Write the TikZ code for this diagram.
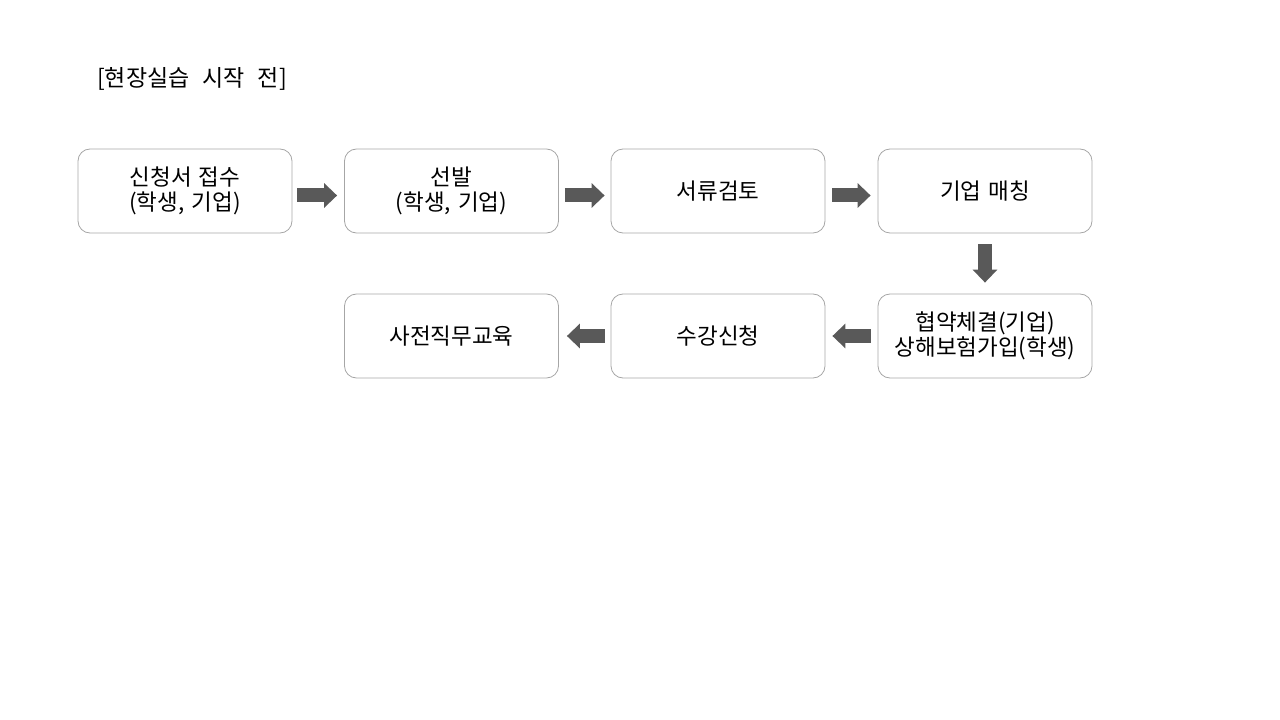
\documentclass[tikz,border=0pt]{standalone}
\usepackage{fontspec}
\usepackage{xcolor}
\usetikzlibrary{arrows.meta,positioning}
\newfontfamily\krfont{Noto Sans CJK KR}
\newcommand{\boxfont}{\krfont\fontsize{22.5bp}{25bp}\selectfont\spaceskip=7bp\relax}
\newcommand{\titlefont}{\krfont\fontsize{23bp}{25bp}\selectfont\spaceskip=13bp\relax}
\definecolor{BoxLine}{RGB}{166,166,166}
\definecolor{ArrowGray}{RGB}{89,89,89}

\begin{document}
\begin{tikzpicture}[x=1bp, y=-1bp,
		stage/.style={draw=BoxLine, line width=0.8bp, rounded corners=12bp, minimum width=214bp, minimum height=84bp, inner sep=0pt, align=center, font=\boxfont},
		blk/.style={ArrowGray, line width=14bp, -{Triangle[length=13bp, width=24bp]}}]
		\useasboundingbox (0,0) rectangle (1280,720);
		
		\node[anchor=west, inner sep=0pt, font=\titlefont] (title) at (97,79) {[현장실습 시작 전]};
		
		% first row
		\node[stage] (apply) at (185,191) {신청서 접수\\(학생, 기업)};
		\node[stage] (select) at (451.5,191) {선발\\(학생, 기업)};
		\node[stage] (review) at (718,191) {서류검토};
		\node[stage] (match) at (985,191) {기업 매칭};
		
		% second row
		\node[stage] (contract) at (985,336) {협약체결(기업)\\상해보험가입(학생)};
		\node[stage] (enroll) at (718,336) {수강신청};
		\node[stage] (training) at (451.5,336) {사전직무교육};
		
		\draw[blk, shorten <=5bp, shorten >=7bp] ([yshift=-4.5bp]apply.east) -- ([yshift=-4.5bp]select.west);
		\draw[blk, shorten <=6bp, shorten >=6bp] ([yshift=-4.5bp]select.east) -- ([yshift=-4.5bp]review.west);
		\draw[blk, shorten <=7bp, shorten >=7bp] ([yshift=-4.5bp]review.east) -- ([yshift=-4.5bp]match.west);
		\draw[blk, shorten <=11bp, shorten >=11bp] (match.south) -- (contract.north);
		\draw[blk, shorten <=7bp, shorten >=7bp] (contract.west) -- (enroll.east);
		\draw[blk, shorten <=6bp, shorten >=8bp] (enroll.west) -- (training.east);
	\end{tikzpicture}
\end{document}
